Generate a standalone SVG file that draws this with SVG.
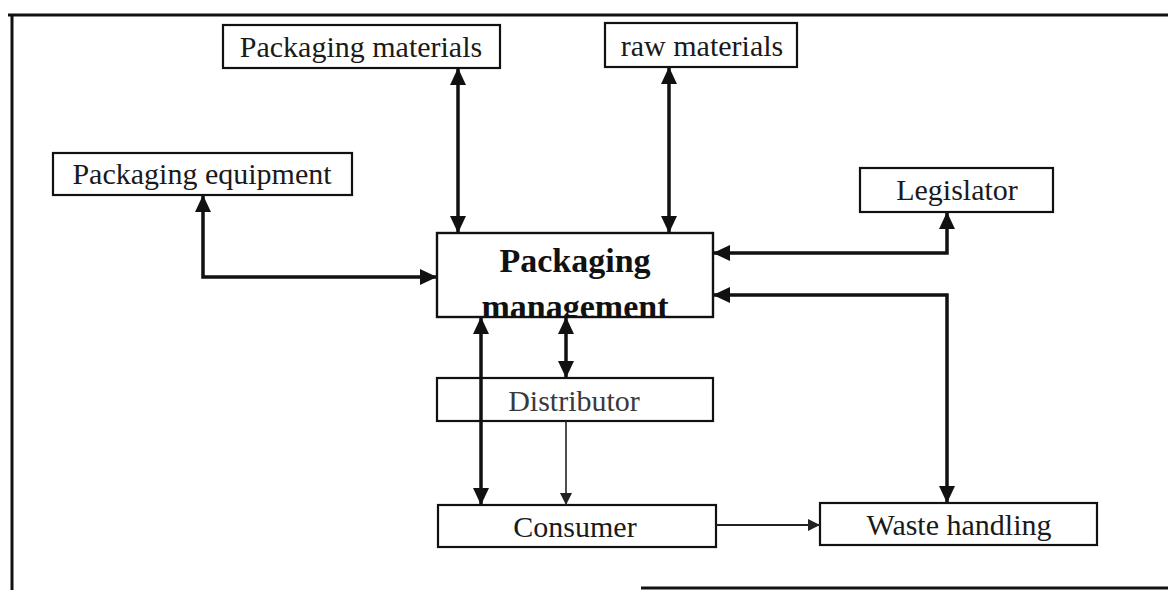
<svg xmlns="http://www.w3.org/2000/svg" width="1168" height="590" viewBox="0 0 1168 590">
  <style>
    .box { fill: #ffffff; stroke: #111111; stroke-width: 2.2; }
    .lbl { font-family: "Liberation Serif", "Times New Roman", serif; font-size: 30px; fill: #1a1a1a; text-anchor: middle; }
    .big { font-family: "Liberation Serif", "Times New Roman", serif; font-size: 34px; font-weight: bold; fill: #111111; text-anchor: middle; }
    .frame { stroke: #111111; stroke-width: 3; fill: none; }
    .thick { stroke: #111111; stroke-width: 3.5; fill: none; }
    .thin { stroke: #222222; stroke-width: 1.6; fill: none; }
    .mid { stroke: #222222; stroke-width: 2.2; fill: none; }
  </style>
  <defs>
    <marker id="head" markerUnits="userSpaceOnUse" markerWidth="18" markerHeight="16" refX="17" refY="8" orient="auto-start-reverse">
      <path d="M0,0 L17,8 L0,16 z" fill="#111111"/>
    </marker>
    <marker id="headSmall" markerUnits="userSpaceOnUse" markerWidth="13" markerHeight="12" refX="12" refY="6" orient="auto-start-reverse">
      <path d="M0,0 L12,6 L0,12 z" fill="#222222"/>
    </marker>
    <clipPath id="pmClip">
      <rect x="437" y="233" width="276" height="84"/>
    </clipPath>
  </defs>

  <rect width="1168" height="590" fill="#ffffff"/>

  <!-- outer frame -->
  <g id="frame">
    <line class="frame" x1="8" y1="15" x2="1168" y2="15"/>
    <line class="frame" x1="12" y1="14" x2="12" y2="590"/>
    <line class="frame" x1="641" y1="588" x2="1168" y2="588"/>
  </g>

  <!-- nodes -->
  <g id="packaging-materials">
    <rect class="box" x="223" y="25" width="277" height="43"/>
    <text class="lbl" x="361" y="57">Packaging materials</text>
  </g>
  <g id="raw-materials">
    <rect class="box" x="605" y="23" width="192" height="44"/>
    <text class="lbl" x="702" y="56">raw materials</text>
  </g>
  <g id="packaging-equipment">
    <rect class="box" x="53" y="153" width="299" height="42"/>
    <text class="lbl" x="202" y="184">Packaging equipment</text>
  </g>
  <g id="legislator">
    <rect class="box" x="860" y="168" width="193" height="44"/>
    <text class="lbl" x="957" y="200">Legislator</text>
  </g>
  <g id="packaging-management">
    <rect class="box" x="437" y="233" width="276" height="84"/>
    <g clip-path="url(#pmClip)">
      <text class="big" x="575" y="272">Packaging</text>
      <text class="big" x="575" y="318">management</text>
    </g>
    <rect x="437" y="233" width="276" height="84" fill="none" stroke="#111111" stroke-width="2.2"/>
  </g>
  <g id="distributor">
    <rect class="box" x="437" y="378" width="276" height="43"/>
    <text class="lbl" x="574" y="411" style="fill:#3a3a3a">Distributor</text>
  </g>
  <g id="consumer">
    <rect class="box" x="438" y="505" width="278" height="42"/>
    <text class="lbl" x="575" y="537">Consumer</text>
  </g>
  <g id="waste-handling">
    <rect class="box" x="820" y="503" width="277" height="42"/>
    <text class="lbl" x="959" y="535">Waste handling</text>
  </g>

  <!-- connectors, drawn over the boxes so the long link crosses Distributor -->
  <g id="connectors">
    <line class="thick" x1="458" y1="68" x2="458" y2="233" marker-start="url(#head)" marker-end="url(#head)"/>
    <line class="thick" x1="669" y1="67" x2="669" y2="233" marker-start="url(#head)" marker-end="url(#head)"/>
    <polyline class="thick" points="203,195 203,277 437,277" marker-start="url(#head)" marker-end="url(#head)"/>
    <polyline class="thick" points="713,253 947,253 947,212" marker-start="url(#head)" marker-end="url(#head)"/>
    <polyline class="thick" points="713,295 947,295 947,503" marker-start="url(#head)" marker-end="url(#head)"/>
    <line class="thick" x1="566" y1="317" x2="566" y2="378" marker-start="url(#head)" marker-end="url(#head)"/>
    <line class="thick" x1="481" y1="317" x2="481" y2="505" marker-start="url(#head)" marker-end="url(#head)"/>
    <line class="thin" x1="566" y1="421" x2="566" y2="505" marker-end="url(#headSmall)"/>
    <line class="mid" x1="716" y1="525" x2="820" y2="525" marker-end="url(#headSmall)"/>
  </g>
</svg>
